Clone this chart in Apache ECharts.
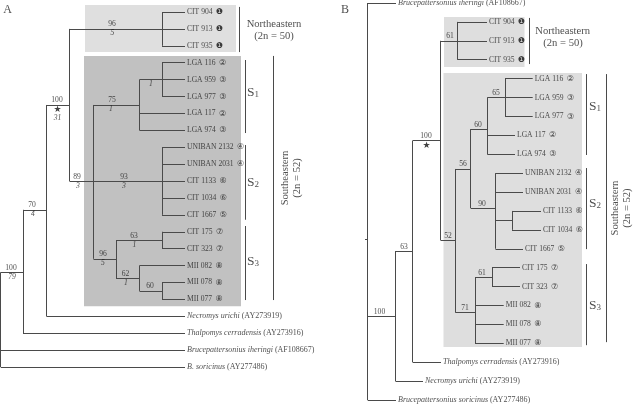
<!DOCTYPE html>
<html>
<head>
<meta charset="utf-8">
<style>
  html, body { margin: 0; background: #fff; }
  #chart { width: 633px; height: 404px; }
</style>
<script src="https://cdn.jsdelivr.net/npm/echarts@6/dist/echarts.min.js"></script>
</head>
<body>
<div id="chart"></div>
<script>
// y axis of each tree = tip rank (0 = top tip), x axis = branch depth
const taxaA = ['CIT 904', 'CIT 913', 'CIT 935', 'LGA 116', 'LGA 959', 'LGA 977', 'LGA 117', 'LGA 974', 'UNIBAN 2132', 'UNIBAN 2031', 'CIT 1133', 'CIT 1034', 'CIT 1667', 'CIT 175', 'CIT 323', 'MII 082', 'MII 078', 'MII 077', 'Necromys urichi', 'Thalpomys cerradensis', 'Brucepattersonius iheringi', 'B. soricinus']
const badgesA = ['❶', '❶', '❶', '②', '③', '③', '②', '③', '④', '④', '⑥', '⑥', '⑤', '⑦', '⑦', '⑧', '⑧', '⑧', '', '', '', '']
const accessionsA = { 18: '(AY273919)', 19: '(AY273916)', 20: '(AF108667)', 21: '(AY277486)' }
const tipEndA = [185, 185, 185, 185, 185, 185, 185, 185, 185, 185, 185, 185, 185, 185, 185, 185, 185, 185, 185, 185, 185, 185]

const taxaB = ['Brucepattersonius iheringi', 'CIT 904', 'CIT 913', 'CIT 935', 'LGA 116', 'LGA 959', 'LGA 977', 'LGA 117', 'LGA 974', 'UNIBAN 2132', 'UNIBAN 2031', 'CIT 1133', 'CIT 1034', 'CIT 1667', 'CIT 175', 'CIT 323', 'MII 082', 'MII 078', 'MII 077', 'Thalpomys cerradensis', 'Necromys urichi', 'Brucepattersonius soricinus']
const badgesB = ['', '❶', '❶', '❶', '②', '③', '③', '②', '③', '④', '④', '⑥', '⑥', '⑤', '⑦', '⑦', '⑧', '⑧', '⑧', '', '', '']
const accessionsB = { 0: '(AF108667)', 19: '(AY273916)', 20: '(AY273919)', 21: '(AY277486)' }
const tipEndB = [396, 487, 487, 487, 532.7, 532.7, 532.7, 515, 515, 523, 523, 541, 541, 523, 520, 520, 503.7, 503.7, 503.7, 441, 423, 396]

// [depth from, depth to, rank]
const spansA = [[0.7, 23, 15.4], [23, 46.5, 11.7], [23, 185, 19], [46.5, 69.5, 5.5], [46.5, 185, 18], [0.7, 185, 20], [0.7, 185, 21], [69.5, 185, 1], [162, 185, 0], [162, 185, 2], [69.5, 185, 10], [93.5, 139.5, 5.5], [139.5, 185, 4], [162, 185, 3], [162, 185, 5], [139.5, 185, 6], [139.5, 185, 7], [162, 185, 8], [162, 185, 9], [162, 185, 11], [162, 185, 12], [93.5, 116, 14.6], [116, 162, 13.5], [162, 185, 13], [162, 185, 14], [116, 139.5, 15.75], [139.5, 185, 15], [139.5, 162, 16.5], [162, 185, 16], [162, 185, 17]]
const spansB = [[367.7, 396, 0], [367.7, 395.5, 16.56], [367.7, 396, 21], [395.5, 412.7, 13.12], [395.5, 423, 20], [412.7, 441, 19], [412.7, 440.5, 7.28], [440.5, 487, 2], [457.3, 487, 1], [457.3, 487, 3], [440.5, 455.3, 12.54], [455.3, 470.7, 8.78], [455.3, 475, 16.37], [470.7, 487.3, 6.67], [470.7, 495.5, 10.85], [487.3, 532.7, 5], [505, 532.7, 4], [505, 532.7, 6], [487.3, 515, 7], [487.3, 515, 8], [495.5, 523, 9], [495.5, 523, 10], [495.5, 512, 11.5], [512, 541, 11], [512, 541, 12], [495.5, 523, 13], [475, 492, 14.5], [492, 520, 14], [492, 520, 15], [475, 503.7, 16], [475, 503.7, 17], [475, 503.7, 18], [365, 367.7, 12.5]]

// [depth, rank from, rank to]
const stemsA = [[0.7, 15.4, 21], [23, 11.7, 19], [46.5, 5.5, 18], [69.5, 1, 10], [162, 0, 2], [93.5, 5.5, 14.6], [139.5, 4, 7], [162, 3, 5], [162, 8, 12], [116, 13.5, 15.75], [162, 13, 14], [139.5, 15, 16.5], [162, 16, 17]]
const stemsB = [[367.7, 0, 21], [395.5, 13.12, 20], [412.7, 7.28, 19], [440.5, 2, 12.54], [457.3, 1, 3], [455.3, 8.78, 16.37], [470.7, 6.67, 10.85], [487.3, 5, 8], [505, 4, 6], [495.5, 9, 13], [512, 11, 12], [475, 14.5, 18], [492, 14, 15]]

// [value, depth, rank]
const bootstrapA = [[96, 112, 1], [100, 57, 5.5], [75, 112, 5.5], [89, 77, 10], [93, 124, 10], [96, 103, 14.6], [63, 134, 13.5], [62, 125.5, 15.75], [60, 150, 16.5], [70, 32, 11.7], [100, 11, 15.4]]
const decayA = [[5, 112.5, 1], [1, 151, 4], [1, 111, 5.5], [31, 57.5, 6], [3, 78, 10], [3, 124, 10], [5, 103, 14.6], [1, 134.5, 13.5], [1, 126, 15.75], [4, 33, 11.7], [79, 12, 15.4]]
const bootstrapB = [[61, 450, 2], [100, 426, 7.28], [65, 496, 5], [60, 478, 6.67], [56, 463, 8.78], [90, 482, 10.85], [52, 448, 12.54], [63, 404, 13.12], [71, 465, 16.37], [61, 482, 14.5], [100, 379.5, 16.56]]
const starA = [57.5, 5.8]
const starB = [426.5, 7.57]

// [depth from, depth to, rank from, rank to]
const boxesA = [[85, 236, -0.41, 2.37, '#dfdfdf'], [84, 241, 2.6, 17.4, '#c1c1c1']]
const boxesB = [[444, 524.5, 0.74, 3.39, '#dedede'], [443.5, 582, 3.7, 18.2, '#dedede']]

// [depth, rank from, rank to]
const bracketsA = [[239.5, -0.3, 2.37], [245.5, 2.84, 7.16], [245.5, 7.87, 12.29], [245.5, 12.66, 17.04], [273.5, 2.6, 17.04]]
const bracketsB = [[529, 0.79, 3.23], [586.5, 3.76, 8.04], [586.5, 8.73, 13.02], [586.5, 13.81, 18.1], [606, 3.76, 17.94]]

const cladesA = [['S', '1', 247, 4.7], ['S', '2', 247, 10], ['S', '3', 247, 14.7]]
const cladesB = [['S', '1', 589, 5.4], ['S', '2', 589, 10.55], ['S', '3', 589, 15.95]]
const groupsA = [['Northeastern', 274, 0.71, 0], ['(2n = 50)', 274, 1.42, 0], ['Southeastern', 285, 9.82, 90], ['(2n = 52)', 297, 9.82, 90]]
const groupsB = [['Northeastern', 562.7, 1.51, 0], ['(2n = 50)', 563, 2.14, 0], ['Southeastern', 615, 10.85, 90], ['(2n = 52)', 627, 10.85, 90]]

const SERIF = '"Liberation Serif", "Times New Roman", serif'
const INK = '#222'

function lineSeries(spans, stems, brackets, i) {
  const data = []
  spans.forEach((s) => data.push({ coords: [[s[0], s[2]], [s[1], s[2]]] }))
  stems.concat(brackets).forEach((s) => data.push({ coords: [[s[0], s[1]], [s[0], s[2]]] }))
  return {
    type: 'lines',
    coordinateSystem: 'cartesian2d',
    xAxisIndex: i,
    yAxisIndex: i,
    polyline: false,
    clip: false,
    silent: true,
    z: 3,
    lineStyle: { color: '#4a4a4a', width: 1, opacity: 1 },
    data,
  }
}

function boxSeries(boxes, i) {
  return {
    type: 'custom',
    xAxisIndex: i,
    yAxisIndex: i,
    silent: true,
    clip: false,
    z: 1,
    data: boxes,
    encode: { x: [0, 1], y: [2, 3] },
    renderItem: (params, api) => {
      const a = api.coord([api.value(0), api.value(2)])
      const b = api.coord([api.value(1), api.value(3)])
      return {
        type: 'rect',
        shape: { x: a[0], y: a[1], width: b[0] - a[0], height: b[1] - a[1] },
        style: { fill: boxes[params.dataIndex][4] },
      }
    },
  }
}

function labelSeries(data, i, label) {
  return {
    type: 'scatter',
    xAxisIndex: i,
    yAxisIndex: i,
    symbolSize: 0,
    silent: true,
    clip: false,
    z: 5,
    data,
    label: Object.assign({ show: true, color: INK, fontFamily: SERIF, fontSize: 7.6 }, label),
  }
}

function tipSeries(taxa, badges, accessions, tipEnd, i) {
  const data = taxa.map((name, k) => ({ value: [tipEnd[k], k], name, badge: badges[k], acc: accessions[k] }))
  return labelSeries(data, i, {
    position: 'right',
    distance: 2,
    formatter: (p) => {
      const d = data[p.dataIndex]
      if (d.acc) return `{it|${d.name}} {acc|${d.acc}}`
      return `${d.name} {badge|${d.badge}}`
    },
    rich: {
      it: { fontStyle: 'italic', fontFamily: SERIF, fontSize: 8, color: INK },
      acc: { fontFamily: SERIF, fontSize: 8, color: INK },
      badge: { fontFamily: '"DejaVu Sans"', fontSize: 8, color: '#111', padding: [0, 0, 0, 1.5] },
    },
  })
}

function supportData(list) {
  return list.map((d) => ({ value: [d[1], d[2]], name: String(d[0]) }))
}

function treeSeries(t, i) {
  const out = [
    boxSeries(t.boxes, i),
    lineSeries(t.spans, t.stems, t.brackets, i),
    tipSeries(t.taxa, t.badges, t.accessions, t.tipEnd, i),
    labelSeries(supportData(t.bootstrap), i, { position: 'top', distance: 0.5, formatter: '{b}' }),
    labelSeries([t.star], i, { position: 'inside', formatter: '★', fontFamily: '"DejaVu Sans"', fontSize: 9, color: '#111' }),
    labelSeries(t.clades.map((c) => ({ value: [c[2], c[3]], name: c[0], sub: c[1] })), i, {
      position: 'right',
      distance: 0,
      formatter: (p) => `{s|${t.clades[p.dataIndex][0]}}{sub|${t.clades[p.dataIndex][1]}}`,
      rich: {
        s: { fontFamily: SERIF, fontSize: 13.5, color: INK, lineHeight: 16, verticalAlign: 'bottom' },
        sub: { fontFamily: SERIF, fontSize: 9, color: INK, lineHeight: 10, padding: [5, 0, 0, 0], verticalAlign: 'bottom' },
      },
    }),
  ]
  t.groups.forEach((g) => {
    out.push(labelSeries([{ value: [g[1], g[2]], name: g[0] }], i, {
      position: 'inside',
      formatter: '{b}',
      fontSize: 10.6,
      rotate: g[3],
    }))
  })
  if (t.decay) {
    out.push(labelSeries(supportData(t.decay), i, { position: 'bottom', distance: 0.5, formatter: '{b}', fontStyle: 'italic' }))
  }
  return out
}

const series = [].concat(
  treeSeries({ boxes: boxesA, spans: spansA, stems: stemsA, brackets: bracketsA, taxa: taxaA, badges: badgesA, accessions: accessionsA, tipEnd: tipEndA, bootstrap: bootstrapA, decay: decayA, star: starA, clades: cladesA, groups: groupsA }, 0),
  treeSeries({ boxes: boxesB, spans: spansB, stems: stemsB, brackets: bracketsB, taxa: taxaB, badges: badgesB, accessions: accessionsB, tipEnd: tipEndB, bootstrap: bootstrapB, star: starB, clades: cladesB, groups: groupsB }, 1),
  labelSeries([{ value: [7.5, -0.12], name: 'A' }], 0, { position: 'inside', formatter: '{b}', fontSize: 12 }),
  labelSeries([{ value: [345, 0.37], name: 'B' }], 1, { position: 'inside', formatter: '{b}', fontSize: 12 })
)

const hiddenX = { type: 'value', show: false, splitLine: { show: false } }
const hiddenY = { type: 'value', show: false, inverse: true, min: 0, max: 21, splitLine: { show: false } }

const chart = echarts.init(document.getElementById('chart'), null, { renderer: 'canvas' })
chart.setOption({
  animation: false,
  backgroundColor: '#fff',
  grid: [
    { left: 0, top: 12, width: 320, height: 355 },
    { left: 320, top: 3, width: 313, height: 397 },
  ],
  xAxis: [
    Object.assign({}, hiddenX, { gridIndex: 0, min: 0, max: 320 }),
    Object.assign({}, hiddenX, { gridIndex: 1, min: 320, max: 633 }),
  ],
  yAxis: [
    Object.assign({}, hiddenY, { gridIndex: 0 }),
    Object.assign({}, hiddenY, { gridIndex: 1 }),
  ],
  series,
})
</script>
</body>
</html>
